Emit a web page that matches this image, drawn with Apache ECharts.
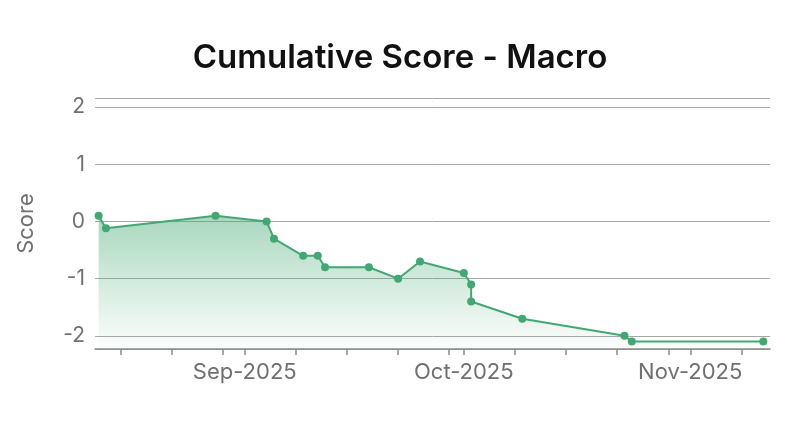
<!DOCTYPE html>
<html>
<head>
<meta charset="utf-8">
<script src="https://cdn.jsdelivr.net/npm/echarts@6/dist/echarts.min.js"></script>
<style>
  html, body { margin: 0; padding: 0; background: #fff; }
  #chart { width: 800px; height: 431px; }
</style>
</head>
<body>
<div id="chart"></div>
<script>
const titleText = 'Cumulative Score - Macro';
const yName = 'Score';
const dates = ['2025-08-12','2025-08-13','2025-08-28','2025-09-04','2025-09-05','2025-09-09','2025-09-11','2025-09-12','2025-09-18','2025-09-22','2025-09-25','2025-10-01','2025-10-02','2025-10-02','2025-10-09','2025-10-23','2025-10-24','2025-11-11'];
const scores = [0.1, -0.12, 0.1, 0, -0.3, -0.6, -0.6, -0.8, -0.8, -1.0, -0.7, -0.9, -1.1, -1.4, -1.7, -2.0, -2.1, -2.1];
const xMin = '2025-08-11 12:00';
const xMax = '2025-11-11 22:00';
const yMin = -2.23;
const yMax = 2.16;

const FONT = 'Inter';
const green = '#42a872';
const chart = echarts.init(document.getElementById('chart'), null, { renderer: 'canvas' });
chart.setOption({
  animation: false,
  textStyle: { fontFamily: FONT },
  title: {
    text: titleText,
    left: 'center',
    top: 42,
    padding: 0,
    textStyle: { fontFamily: FONT, fontSize: 33, fontWeight: 600, color: '#111' }
  },
  grid: { left: 95, right: 30, top: 98, bottom: 82, containLabel: false },
  xAxis: {
    type: 'time',
    min: xMin,
    max: xMax,
    splitNumber: 8,
    axisLine: { onZero: false, lineStyle: { color: '#8a8a8a', width: 1.5 } },
    axisTick: { show: true, length: 6, lineStyle: { color: '#8a8a8a', width: 1.5 } },
    splitLine: { show: false },
    axisLabel: {
      color: '#707070',
      fontSize: 22,
      fontFamily: FONT,
      margin: 12,
      hideOverlap: false,
      formatter: function (value) {
        const d = new Date(value);
        return d.getDate() === 1 ? echarts.time.format(value, '{MMM}-{yyyy}', false) : '';
      }
    }
  },
  yAxis: {
    type: 'value',
    min: yMin,
    max: yMax,
    name: yName,
    nameLocation: 'middle',
    nameGap: 58,
    nameTextStyle: { color: '#707070', fontSize: 22, fontFamily: FONT },
    axisLine: { show: false },
    axisTick: { show: false },
    splitLine: { lineStyle: { color: '#a8a8a8', width: 1 } },
    axisLabel: {
      color: '#707070',
      fontSize: 21,
      fontFamily: FONT,
      margin: 10,
      formatter: function (v) { return Math.abs(v - Math.round(v)) < 1e-6 ? String(Math.round(v)) : ''; }
    }
  },
  series: [{
    type: 'line',
    data: dates.map((d, i) => [d, scores[i]]),
    symbol: 'circle',
    symbolSize: 8,
    showAllSymbol: true,
    lineStyle: { color: green, width: 2 },
    itemStyle: { color: green },
    areaStyle: {
      origin: 'start',
      color: new echarts.graphic.LinearGradient(0, 0, 0, 1, [
        { offset: 0, color: 'rgba(66,168,114,0.65)' },
        { offset: 1, color: 'rgba(66,168,114,0.02)' }
      ])
    }
  }]
});
</script>
</body>
</html>
